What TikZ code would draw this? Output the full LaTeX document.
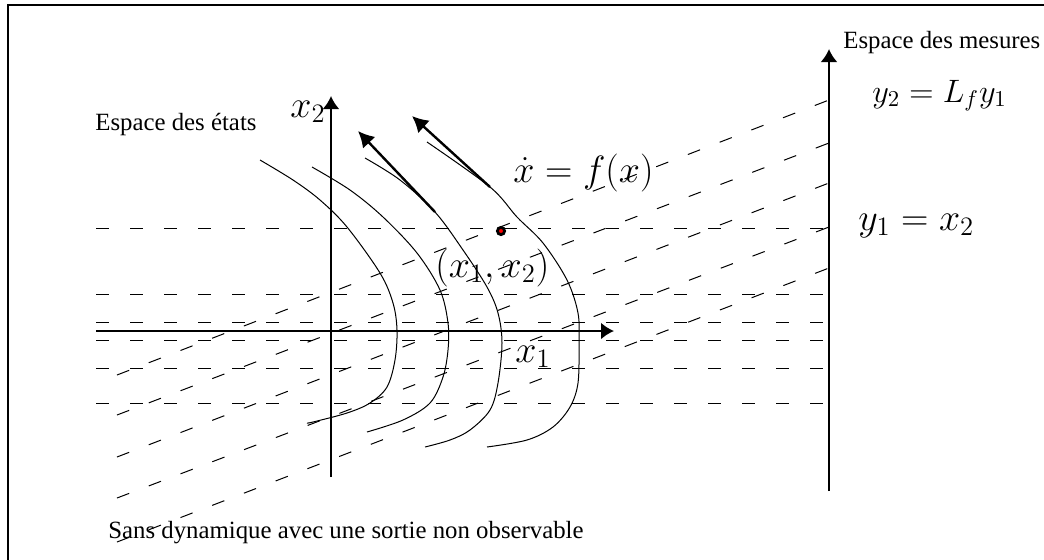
\RequirePackage{fix-cm}
\documentclass[tikz,border=0pt]{standalone}
\usepackage{fontspec}
\setmainfont{Liberation Serif}
\usetikzlibrary{arrows.meta}
\begin{document}
\begin{tikzpicture}[x=0.5pt,y=-0.5pt,
 lbl/.style={inner sep=0pt, anchor=base west, font=\fontsize{12.4}{15}\selectfont},
 mth/.style={inner sep=0pt, anchor=base west, font=\fontsize{19}{23}\selectfont},
 mths/.style={inner sep=0pt, anchor=base west, font=\fontsize{16.2}{19}\selectfont},
 axis/.style={line width=1.2pt, -{Latex[length=6.5pt,width=8.5pt]}},
 flow/.style={line width=1.2pt, -{Latex[length=8pt,width=8.5pt]}},
 traj/.style={line width=0.5pt},
 fib/.style={line width=0.5pt, dash pattern=on 6.5pt off 10.5pt},
 frame/.style={line width=1pt},
 ]
\useasboundingbox (0,0) rectangle (1044,559);
% frame (left and top edges)
\coordinate (fbl) at (7.5,560);
\coordinate (ftl) at (7.5,5);
\coordinate (ftr) at (1045,5);
\draw[frame] (fbl) -- (ftl) -- (ftr);

% horizontal dashed lines
\foreach \yy [count=\i] in {228,294,322,340,368,403}{
  \coordinate (hl\i) at (96,\yy);
  \coordinate (hr\i) at (829,\yy);
  \draw[fib] (hl\i) -- (hr\i);
}
% slanted dashed lines
\foreach \ya/\yb [count=\i] in {375/100,415/143,457/183,498/227,542/268}{
  \coordinate (sl\i) at (117,\ya);
  \coordinate (sr\i) at (829,\yb);
  \draw[fib] (sl\i) -- (sr\i);
}

% trajectories
\draw[traj] plot[smooth, tension=0.55] coordinates {(260,160) (293,180) (320,200) (347,227) (380,273) (393,303) (397,330) (395,360) (387,387) (370,403) (347,413) (313,422) (307,423)};
\draw[traj] plot[smooth, tension=0.55] coordinates {(312,167) (350,190) (383,217) (417,253) (440,290) (448,323) (448,350) (443,377) (430,403) (403,420) (367,432)};
\draw[traj] plot[smooth, tension=0.55] coordinates {(365,158) (400,180) (435,212) (463,250) (487,287) (498,313) (502,343) (498,383) (490,410) (470,430) (450,440) (425,447)};
\draw[traj] plot[smooth, tension=0.55] coordinates {(427,142) (490,187) (517,217) (543,243) (567,280) (578,313) (579,343) (578,383) (570,407) (553,427) (527,440) (487,447)};

% axes
\coordinate (x2b) at (331,477);
\coordinate (x2t) at (331,96);
\coordinate (x1l) at (96,331);
\coordinate (x1r) at (614,331);
\coordinate (yb) at (829,491);
\coordinate (yt) at (829,49);
\draw[axis] (x2b) -- (x2t);
\draw[axis] (x1l) -- (x1r);
\draw[axis] (yb) -- (yt);

% flow vectors
\coordinate (fa0) at (435,212);
\coordinate (fa1) at (358,131);
\coordinate (fb0) at (490,187);
\coordinate (fb1) at (412,116);
\draw[flow] (fa0) -- (fa1);
\draw[flow] (fb0) -- (fb1);

% state point
\node[circle, draw=black, line width=1.4pt, fill=red, minimum size=3.6pt, inner sep=0pt] (pt) at (501,231) {};

% labels
\node[lbl] (etats) at (95,130) {Espace des états};
\node[lbl] (mesures) at (843,48) {Espace des mesures};
\node[lbl] (sans) at (108,538) {Sans dynamique avec une sortie non observable};
\node[mth] (lx2) at (290,117) {$x_2$};
\node[mth] (lx1) at (515,362) {$x_1$};
\node[mth] (lpt) at (435,277) {$(x_1,x_2)$};
\node[mth] (ldyn) at (513,182) {$\dot x = f(x)$};
\node[mth] (ly1) at (858,230) {$y_1 = x_2$};
\node[mths] (ly2) at (872,102) {$y_2 = L_f y_1$};
\end{tikzpicture}
\end{document}
